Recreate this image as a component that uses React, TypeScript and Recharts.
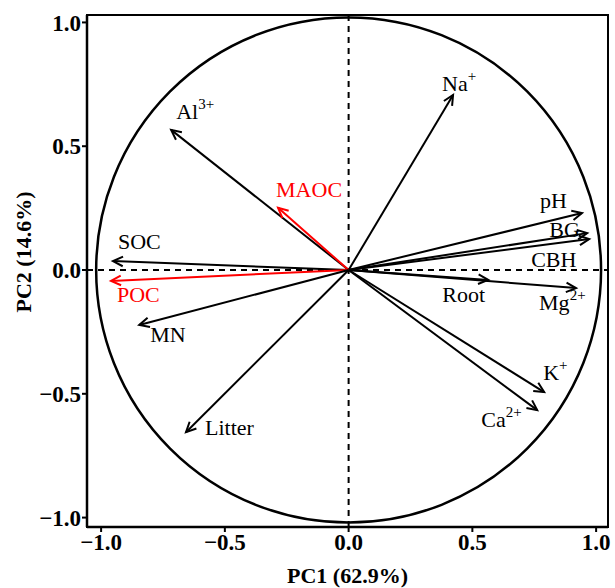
import React from 'react';
import {
    ScatterChart,
    Scatter,
    XAxis,
    YAxis,
    ReferenceLine,
    ReferenceArea,
} from 'recharts';

// loadings
const variables = ['Na', 'Al', 'MAOC', 'pH', 'BG', 'CBH', 'Root', 'Mg', 'K', 'Ca', 'SOC', 'POC', 'MN', 'Litter'];
const superscripts = ['+', '3+', '', '', '', '', '', '2+', '+', '2+', '', '', '', ''];
const pc1 = [0.422, -0.717, -0.285, 0.943, 0.964, 0.972, 0.564, 0.919, 0.79, 0.762, -0.952, -0.96, -0.846, -0.657];
const pc2 = [0.707, 0.566, 0.251, 0.23, 0.149, 0.125, -0.04, -0.073, -0.493, -0.566, 0.036, -0.044, -0.222, -0.655];
const highlighted = ['MAOC', 'POC'];
const xTicks = [-1, -0.5, 0, 0.5, 1];
const yTicks = [-1, -0.5, 0, 0.5, 1];
const circleRadius = 1.02;

const X_DOMAIN: [number, number] = [-1.057, 1.048];
const Y_DOMAIN: [number, number] = [-1.038, 1.03];

// label offsets from the arrow tip, in px (text-anchor start, baseline)
const labelOffsets: Record<string, [number, number]> = {
    Na: [-11, -4],
    Al: [5, -11],
    MAOC: [-2, -11],
    pH: [-42, -5],
    BG: [-38, 4],
    CBH: [-58, 28],
    Root: [-46, 22],
    Mg: [-37, 22],
    K: [-1, -12],
    Ca: [-56, 17],
    SOC: [5, -12],
    POC: [6, 21],
    MN: [11, 17],
    Litter: [19, 3],
};

const FONT = '"Liberation Serif", "Times New Roman", serif';
const RED = '#ff0000';

const data = variables.map((name, i) => ({ name, sup: superscripts[i], x: pc1[i], y: pc2[i] }));

const colorOf = (name: string) => (highlighted.includes(name) ? RED : '#000');

const fmt = (v: number) => (v < 0 ? '\u2212' + Math.abs(v).toFixed(1) : v.toFixed(1));

const arrowShape = (color: string) => (p: any) => {
    const { x1, y1, x2, y2 } = p;
    const a = Math.atan2(y2 - y1, x2 - x1);
    const len = 11;
    const w = 0.45;
    const ax = x2 - len * Math.cos(a - w);
    const ay = y2 - len * Math.sin(a - w);
    const bx = x2 - len * Math.cos(a + w);
    const by = y2 - len * Math.sin(a + w);
    return (
        <g>
            <line x1={x1} y1={y1} x2={x2} y2={y2} stroke={color} strokeWidth={2} />
            <path d={`M${ax},${ay}L${x2},${y2}L${bx},${by}`} fill="none" stroke={color} strokeWidth={2} />
        </g>
    );
};

const LabelShape = (p: any) => {
    const { cx, cy, payload } = p;
    const [dx, dy] = labelOffsets[payload.name] || [0, 0];
    return (
        <text
            x={cx + dx}
            y={cy + dy}
            fill={colorOf(payload.name)}
            fontSize={22}
            fontFamily={FONT}
            textAnchor="start"
        >
            <tspan>{payload.name}</tspan>
            {payload.sup ? (
                <tspan dy={-10} fontSize={15}>
                    {payload.sup}
                </tspan>
            ) : null}
        </text>
    );
};

const circleShape = (p: any) => (
    <ellipse
        cx={p.x + p.width / 2}
        cy={p.y + p.height / 2}
        rx={p.width / 2}
        ry={p.height / 2}
        fill="none"
        stroke="#000"
        strokeWidth={2.5}
    />
);

const YTitle = (p: any) => {
    const vb = p.viewBox;
    const x = vb.x + 23;
    const y = vb.y + vb.height / 2 - 19;
    return (
        <text
            x={x}
            y={y}
            transform={`rotate(-90, ${x}, ${y})`}
            textAnchor="middle"
            dominantBaseline="central"
            fill="#000"
            fontSize={22}
            fontWeight="bold"
            fontFamily={FONT}
        >
            PC2 (14.6%)
        </text>
    );
};

const tickStyle = { fill: '#000', fontSize: 23, fontWeight: 'bold', fontFamily: FONT };

export default function App() {
    return (
        <div style={{ position: 'absolute', left: 0, top: 0, background: '#fff' }}>
            <ScatterChart width={615} height={588} margin={{ top: 15, right: 7, left: 0, bottom: 0 }}>
                <XAxis
                    type="number"
                    dataKey="x"
                    domain={X_DOMAIN}
                    ticks={xTicks}
                    allowDataOverflow
                    tickFormatter={fmt}
                    height={61}
                    tickSize={5}
                    tickMargin={2}
                    tick={tickStyle}
                    axisLine={{ stroke: '#000', strokeWidth: 2.5 }}
                    tickLine={{ stroke: '#000', strokeWidth: 2 }}
                    label={{
                        value: 'PC1 (62.9%)',
                        position: 'insideBottom',
                        offset: 5,
                        style: { fill: '#000', fontSize: 22, fontWeight: 'bold', fontFamily: FONT },
                    }}
                />
                <YAxis
                    type="number"
                    dataKey="y"
                    domain={Y_DOMAIN}
                    ticks={yTicks}
                    allowDataOverflow
                    tickFormatter={fmt}
                    width={87}
                    tickSize={5}
                    tickMargin={1}
                    tick={tickStyle}
                    axisLine={{ stroke: '#000', strokeWidth: 2.5 }}
                    tickLine={{ stroke: '#000', strokeWidth: 2 }}
                    label={{ content: YTitle }}
                />
                <ReferenceArea
                    x1={X_DOMAIN[0]}
                    x2={X_DOMAIN[1]}
                    y1={Y_DOMAIN[0]}
                    y2={Y_DOMAIN[1]}
                    fill="none"
                    stroke="#000"
                    strokeWidth={2}
                    ifOverflow="visible"
                />
                <ReferenceArea
                    x1={-circleRadius}
                    x2={circleRadius}
                    y1={-circleRadius}
                    y2={circleRadius}
                    shape={circleShape}
                    ifOverflow="visible"
                />
                <ReferenceLine x={0} stroke="#000" strokeWidth={2} strokeDasharray="6 5" />
                <ReferenceLine y={0} stroke="#000" strokeWidth={2} strokeDasharray="6 5" />
                {data.map((d) => (
                    <ReferenceLine
                        key={d.name}
                        segment={[
                            { x: 0, y: 0 },
                            { x: d.x, y: d.y },
                        ]}
                        ifOverflow="visible"
                        shape={arrowShape(colorOf(d.name))}
                    />
                ))}
                <Scatter data={data} shape={LabelShape} isAnimationActive={false} />
            </ScatterChart>
        </div>
    );
}
